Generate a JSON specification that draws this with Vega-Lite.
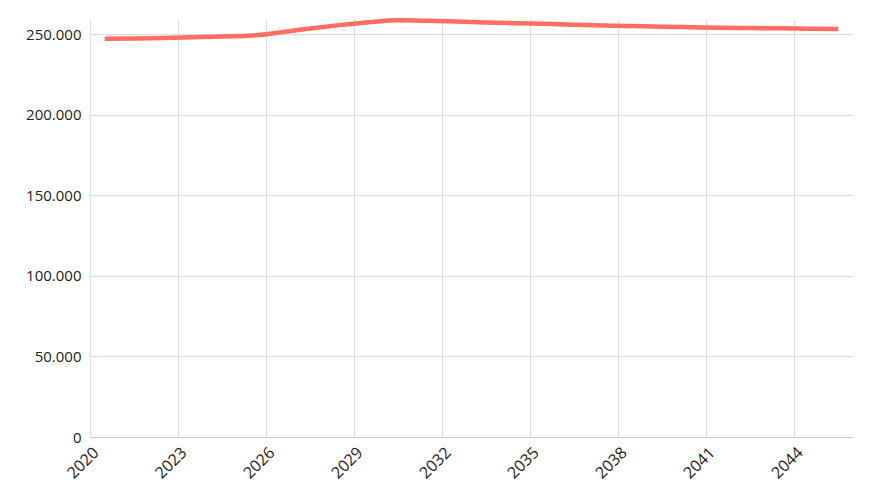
{
  "$schema": "https://vega.github.io/schema/vega-lite/v6.json",
  "width": 763,
  "height": 418,
  "autosize": {"type": "none"},
  "padding": {"left": 90, "top": 19, "right": 20, "bottom": 63},
  "config": {
    "locale": {"number": {"decimal": ",", "thousands": ".", "grouping": [3], "currency": ["", " €"]}},
    "view": {"stroke": null},
    "font": "Open Sans",
    "axis": {"labelFont": "Open Sans", "labelFontSize": 15, "labelColor": "#222", "gridColor": "#dddddd", "gridWidth": 1, "ticks": false, "title": null}
  },
  "data": {
    "values": [
      {"year": 2020.5, "value": 247200},
      {"year": 2021.5, "value": 247400},
      {"year": 2022.5, "value": 247700},
      {"year": 2023.5, "value": 248100},
      {"year": 2024.5, "value": 248600},
      {"year": 2025.5, "value": 249200},
      {"year": 2026.5, "value": 251200},
      {"year": 2027.5, "value": 253600},
      {"year": 2028.5, "value": 255700},
      {"year": 2029.5, "value": 257500},
      {"year": 2030.5, "value": 258700},
      {"year": 2031.5, "value": 258400},
      {"year": 2032.5, "value": 257900},
      {"year": 2033.5, "value": 257400},
      {"year": 2034.5, "value": 256900},
      {"year": 2035.5, "value": 256500},
      {"year": 2036.5, "value": 256000},
      {"year": 2037.5, "value": 255500},
      {"year": 2038.5, "value": 255100},
      {"year": 2039.5, "value": 254700},
      {"year": 2040.5, "value": 254400},
      {"year": 2041.5, "value": 254100},
      {"year": 2042.5, "value": 253900},
      {"year": 2043.5, "value": 253700},
      {"year": 2044.5, "value": 253500},
      {"year": 2045.5, "value": 253300}
    ]
  },
  "mark": {"type": "line", "color": "#ff6e61", "strokeWidth": 4.5, "strokeCap": "butt", "strokeJoin": "round", "interpolate": "monotone"},
  "encoding": {
    "x": {
      "field": "year", "type": "quantitative",
      "scale": {"domain": [2020, 2046], "nice": false, "zero": false},
      "axis": {"values": [2020, 2023, 2026, 2029, 2032, 2035, 2038, 2041, 2044], "format": "d", "labelAngle": -45, "labelFontSize": 16, "domainColor": "#cccccc", "labelPadding": 7, "labelFlush": false}
    },
    "y": {
      "field": "value", "type": "quantitative",
      "scale": {"domain": [0, 259500], "nice": false},
      "axis": {"values": [0, 50000, 100000, 150000, 200000, 250000], "format": ",d", "domain": false, "labelPadding": 9}
    }
  }
}
